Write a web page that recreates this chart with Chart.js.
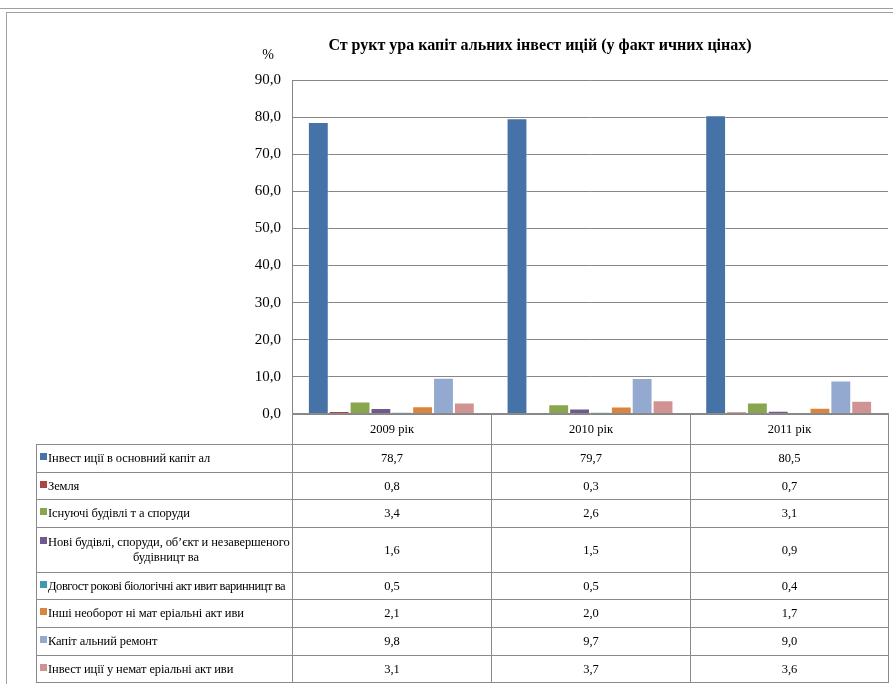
<!DOCTYPE html>
<html lang="uk">
<head>
<meta charset="utf-8">
<script src="https://cdn.jsdelivr.net/npm/chart.js@4"></script>
<style>
  body { margin: 0; background: #fff; font-family: 'Liberation Serif', serif; }
  #page { position: relative; width: 893px; height: 684px; overflow: hidden; background: #fff; }
  .linea { position: absolute; background: #a0a0a0; }
  #grafico { position: absolute; left: 0; top: 0; }
  #tabla { position: absolute; left: 36px; top: 413px; width: 852px; table-layout: fixed;
           border-collapse: collapse; font-size: 12.5px; color: #000; }
  #tabla td { border: 1px solid #8a8a8a; padding: 0; vertical-align: middle; }
  #tabla td.val { text-align: center; }
  #tabla td.nom { padding-left: 3px; white-space: nowrap; overflow: hidden; letter-spacing: -0.1px; }
  #tabla td.vacio { border: none; }
  .cuadro { display: inline-block; width: 7px; height: 7px; margin-right: 1px; vertical-align: 2px; }
</style>
</head>
<body>
<div id="page">
  <div class="linea" style="left:0;top:8px;width:893px;height:1px"></div>
  <div class="linea" style="left:6px;top:12px;width:887px;height:1px"></div>
  <div class="linea" style="left:6px;top:12px;width:1px;height:672px"></div>
  <canvas id="grafico" width="893" height="435"></canvas>
  <table id="tabla">
    <colgroup><col style="width:256px"><col style="width:199px"><col style="width:199px"><col style="width:198px"></colgroup>
    <tbody id="cuerpo"></tbody>
  </table>
</div>
<script>
const titulo = 'Ст рукт ура капіт альних інвест ицій (у факт ичних цінах)';
const años = ['2009 рік', '2010 рік', '2011 рік'];
const series = [
  'Інвест иції в основний капіт ал',
  'Земля',
  'Існуючі будівлі т а споруди',
  'Нові будівлі, споруди, об’єкт и незавершеного будівницт ва',
  'Довгост рокові біологічні акт ивит варинницт ва',
  'Інші необорот ні мат еріальні акт иви',
  'Капіт альний ремонт',
  'Інвест иції у немат еріальні акт иви'
];
const colores = ['#4572A7', '#AA4643', '#89A54E', '#71588F', '#4198AF', '#DB843D', '#93A9CF', '#D19392'];

const inversionFijo = [78.7, 79.7, 80.5];
const tierra = [0.8, 0.3, 0.7];
const edificiosExist = [3.4, 2.6, 3.1];
const edificiosNuevos = [1.6, 1.5, 0.9];
const activosBiolog = [0.5, 0.5, 0.4];
const otrosActivos = [2.1, 2.0, 1.7];
const reparacion = [9.8, 9.7, 9.0];
const intangibles = [3.1, 3.7, 3.6];
const valores = [inversionFijo, tierra, edificiosExist, edificiosNuevos, activosBiolog, otrosActivos, reparacion, intangibles];

const alturas = [28, 27, 28, 45, 27, 28, 28, 27];
const fmt = v => v.toFixed(1).replace('.', ',');

// tabla de datos debajo del grafico
const cuerpo = document.getElementById('cuerpo');
let html = '<tr style="height:31px"><td class="vacio"></td>' +
  años.map(a => `<td class="val">${a}</td>`).join('') + '</tr>';
series.forEach((s, i) => {
  let nombre = `<span class="cuadro" style="background:${colores[i]}"></span>${s}`;
  if (i === 3) {
    nombre = `<span class="cuadro" style="background:${colores[i]}"></span>Нові будівлі, споруди, об’єкт и незавершеного` +
      `<div style="text-align:center">будівницт ва</div>`;
  }
  const apretado = i === 4 ? ' style="letter-spacing:-0.45px"' : '';
  html += `<tr style="height:${alturas[i]}px"><td class="nom"${apretado}>${nombre}</td>` +
    valores[i].map(v => `<td class="val">${fmt(v)}</td>`).join('') + '</tr>';
});
cuerpo.innerHTML = html;

const textos = {
  id: 'textos',
  afterDraw(chart) {
    const ctx = chart.ctx;
    ctx.save();
    ctx.fillStyle = '#000';
    ctx.textBaseline = 'middle';
    ctx.textAlign = 'center';
    ctx.font = 'bold 16px "Liberation Serif"';
    ctx.fillText(titulo, 540, 46);
    ctx.font = '14px "Liberation Serif"';
    ctx.fillText('%', 268, 55);
    ctx.restore();
  }
};

new Chart(document.getElementById('grafico'), {
  type: 'bar',
  data: {
    labels: años,
    datasets: series.map((s, i) => ({
      label: s,
      data: valores[i],
      backgroundColor: colores[i],
      borderColor: 'rgba(255,255,255,0.45)',
      borderWidth: 1
    }))
  },
  options: {
    responsive: false,
    animation: false,
    layout: { padding: { left: 0, right: 5, top: 80, bottom: 21 } },
    datasets: { bar: { categoryPercentage: 0.84, barPercentage: 1.0 } },
    plugins: { legend: { display: false }, title: { display: false }, tooltip: { enabled: false } },
    scales: {
      x: { display: false },
      y: {
        min: 0,
        max: 90,
        ticks: {
          stepSize: 10,
          padding: 11,
          color: '#000',
          font: { family: 'Liberation Serif', size: 15 },
          callback: v => fmt(v)
        },
        grid: { color: '#868686', drawTicks: false },
        border: { color: '#868686' },
        afterFit: scale => { scale.width = 292; }
      }
    }
  },
  plugins: [textos]
});
</script>
</body>
</html>
